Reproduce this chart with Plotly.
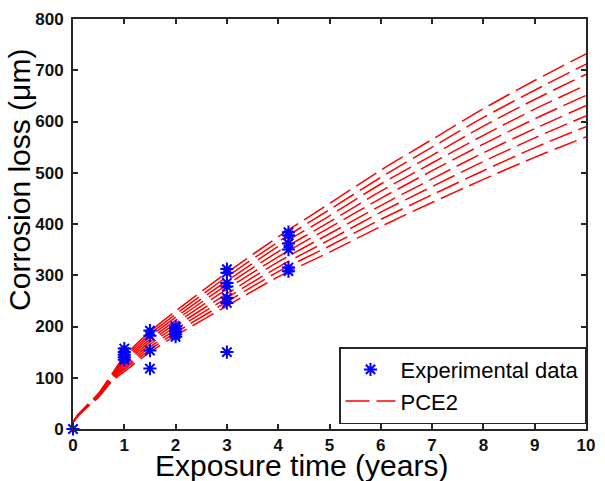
import plotly.graph_objects as go

# ---- data ----
t_model = [0, 0.1, 0.25, 0.5, 0.75, 1, 1.5, 2, 3, 4, 5, 6, 7, 8, 9, 10]
pce2_curves = [
    [13, 28, 44, 70, 106, 142, 190, 230, 305, 375, 440, 505, 565, 625, 680, 732],
    [13, 28, 44, 69, 104, 138, 185, 224, 297, 365, 428, 491, 550, 608, 661, 712],
    [13, 27, 43, 68, 103, 134, 180, 218, 289, 356, 416, 478, 534, 591, 643, 692],
    [13, 27, 43, 67, 101, 131, 175, 212, 281, 346, 404, 464, 519, 573, 624, 671],
    [13, 27, 42, 66, 99, 127, 170, 206, 273, 336, 393, 450, 504, 556, 605, 651],
    [13, 27, 42, 65, 97, 123, 165, 200, 264, 326, 381, 436, 488, 539, 586, 631],
    [13, 26, 41, 64, 95, 119, 160, 194, 256, 316, 369, 423, 473, 522, 568, 611],
    [13, 26, 41, 63, 94, 116, 155, 188, 248, 307, 357, 409, 457, 504, 549, 590],
    [13, 26, 40, 62, 92, 112, 150, 182, 240, 297, 345, 395, 442, 487, 530, 570],
]

exp_t = [0,
         1, 1, 1, 1, 1,
         1.5, 1.5, 1.5, 1.5,
         2, 2, 2, 2, 2,
         3, 3, 3, 3, 3, 3, 3,
         4.2, 4.2, 4.2, 4.2, 4.2, 4.2]
exp_loss = [0,
            157, 150, 145, 140, 135,
            192, 182, 153, 118,
            200, 195, 190, 185, 180,
            312, 305, 285, 278, 256, 246, 150,
            384, 378, 362, 350, 315, 308]

x_ticks = [0, 1, 2, 3, 4, 5, 6, 7, 8, 9, 10]
y_ticks = [0, 100, 200, 300, 400, 500, 600, 700, 800]

FONT = "Liberation Sans, Arial, sans-serif"

fig = go.Figure()

for i, vals in enumerate(pce2_curves):
    fig.add_trace(go.Scatter(
        x=t_model, y=vals, mode="lines", name="PCE2",
        line=dict(color="#ff0000", width=1.5, dash="24px,7px", shape="spline", smoothing=0.8),
        legendgroup="pce2", showlegend=(i == 0), legendrank=2,
    ))

fig.add_trace(go.Scatter(
    x=exp_t, y=exp_loss, mode="markers", name="Experimental data",
    marker=dict(symbol="asterisk-open", size=11, color="#0000ff",
                line=dict(color="#0000ff", width=2)),
    legendrank=1, cliponaxis=False,
))

axis_common = dict(
    showline=True, linecolor="#262626", linewidth=2, mirror="ticks",
    ticks="inside", ticklen=5, tickwidth=1.5, tickcolor="#262626",
    showgrid=False, zeroline=False,
    tickfont=dict(family=FONT, size=17, color="#111111", weight="bold"),
)

fig.update_xaxes(range=[0, 10], tickvals=x_ticks, ticklabelstandoff=0, **axis_common)
fig.update_yaxes(range=[0, 800], tickvals=y_ticks, ticklabelstandoff=4, **axis_common)

fig.update_layout(
    width=605, height=481,
    margin=dict(l=73, r=10, t=19, b=52),
    paper_bgcolor="white", plot_bgcolor="white",
    showlegend=True,
    legend=dict(
        x=1.0, y=0.012, xanchor="right", yanchor="bottom",
        bordercolor="#262626", borderwidth=1.5, bgcolor="white",
        font=dict(family=FONT, size=22, color="black"),
        tracegroupgap=0, itemwidth=50,
    ),
    annotations=[
        dict(text="Exposure time (years)", xref="paper", yref="paper",
             x=(305 - 73) / 522, y=-(465 - 429) / 410, xanchor="center", yanchor="middle",
             showarrow=False, font=dict(family=FONT, size=30, color="black")),
        dict(text="Corrosion loss (μm)", xref="paper", yref="paper",
             x=-(73 - 18) / 522, y=(429 - 180) / 410, xanchor="center", yanchor="middle",
             textangle=-90, showarrow=False, font=dict(family=FONT, size=30, color="black")),
    ],
)

fig.write_html("out.html", config={"displayModeBar": False},
               post_script="document.body.style.margin='0';")
